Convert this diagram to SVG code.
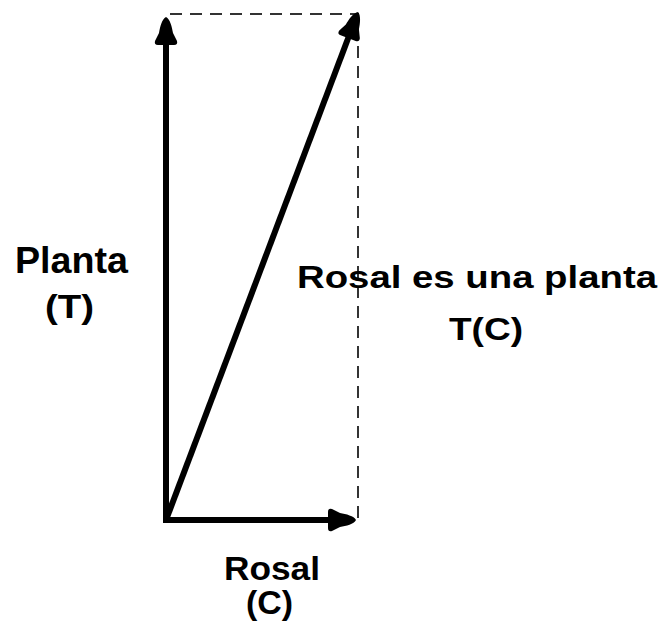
<svg xmlns="http://www.w3.org/2000/svg" width="659" height="626" viewBox="0 0 659 626">
<style>
.lbl{font-family:"Liberation Sans",Arial,sans-serif;font-weight:bold;fill:#000;text-anchor:middle;}
.vec{stroke:#000;stroke-width:6;fill:none;}
.dash{stroke:#333;stroke-width:2;stroke-dasharray:12 8;fill:none;}
</style>
<defs>
<marker id="ah" markerUnits="userSpaceOnUse" markerWidth="30" markerHeight="26" refX="16" refY="0" viewBox="0 -13 30 26" orient="auto" overflow="visible">
<path d="M28,0 C26,-4 18,-6 12,-7 L4,-11 Q0,-12 0,-8 L0,8 Q0,12 4,11 L12,7 C18,6 26,4 28,0 Z" fill="#000"/>
</marker>
</defs>
<rect width="659" height="626" fill="#fff"/>
<g id="connectors">
<path class="dash" d="M170,14 H358 V520"/>
<line class="vec" x1="166" y1="523" x2="166" y2="29" marker-end="url(#ah)"/>
<line class="vec" x1="163" y1="520" x2="344" y2="520" marker-end="url(#ah)"/>
<line class="vec" x1="166" y1="520" x2="353.8" y2="23.2" marker-end="url(#ah)"/>
</g>
<g id="planta">
<text class="lbl" x="71.5" y="273" font-size="36" textLength="113" lengthAdjust="spacingAndGlyphs">Planta</text>
<text class="lbl" x="69.5" y="318" font-size="33" textLength="49" lengthAdjust="spacingAndGlyphs">(T)</text>
</g>
<g id="rosal-es-planta">
<text class="lbl" x="477" y="288" font-size="32" textLength="360" lengthAdjust="spacingAndGlyphs">Rosal es una planta</text>
<text class="lbl" x="486" y="340" font-size="31" textLength="74" lengthAdjust="spacingAndGlyphs">T(C)</text>
</g>
<g id="rosal">
<text class="lbl" x="272" y="580" font-size="34" textLength="96" lengthAdjust="spacingAndGlyphs">Rosal</text>
<text class="lbl" x="269.5" y="614" font-size="33" textLength="47" lengthAdjust="spacingAndGlyphs">(C)</text>
</g>
</svg>
